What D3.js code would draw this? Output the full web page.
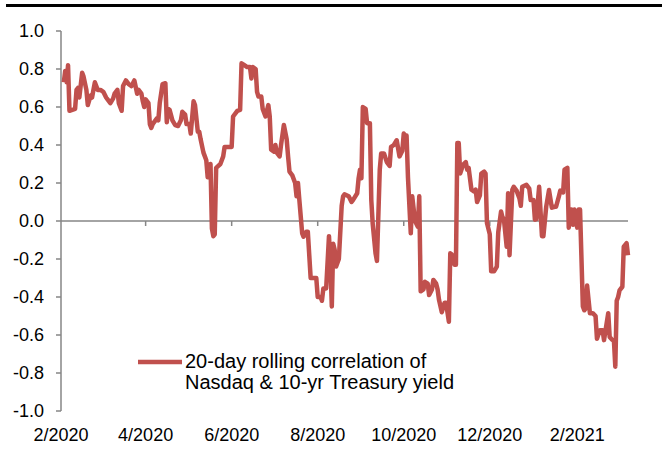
<!DOCTYPE html>
<html lang="en">
<head>
  <meta charset="UTF-8">
  <title>Nasdaq vs 10-yr Treasury yield correlation</title>
  <script src="https://cdn.jsdelivr.net/npm/d3@7"></script>
  <style type="text/css">
    body { margin: 0; background: #fff; }
    svg { display: block; font-family: "Liberation Sans", Arial, sans-serif; }
  </style>
</head>
<body>
<div id="chart"></div>
<script type="text/javascript">
  // 20-day rolling correlation
  var dates = [
    "2020-02-03","2020-02-04","2020-02-05","2020-02-06","2020-02-07","2020-02-11","2020-02-12","2020-02-13","2020-02-14","2020-02-16",
    "2020-02-17","2020-02-19","2020-02-20","2020-02-22","2020-02-23","2020-02-25","2020-02-27","2020-02-29","2020-03-02","2020-03-04",
    "2020-03-05","2020-03-07","2020-03-09","2020-03-10","2020-03-12","2020-03-13","2020-03-15","2020-03-16","2020-03-18","2020-03-20",
    "2020-03-22","2020-03-23","2020-03-24","2020-03-26","2020-03-27","2020-03-29","2020-03-30","2020-03-31","2020-04-01","2020-04-03",
    "2020-04-04","2020-04-05","2020-04-06","2020-04-09","2020-04-10","2020-04-11","2020-04-13","2020-04-15","2020-04-16","2020-04-17",
    "2020-04-18","2020-04-20","2020-04-22","2020-04-24","2020-04-26","2020-04-27","2020-04-29","2020-04-30","2020-05-02","2020-05-03",
    "2020-05-05","2020-05-06","2020-05-08","2020-05-09","2020-05-10","2020-05-12","2020-05-13","2020-05-14","2020-05-15","2020-05-17",
    "2020-05-18","2020-05-19","2020-05-20","2020-05-21","2020-05-24","2020-05-26","2020-05-27","2020-06-01","2020-06-02","2020-06-05",
    "2020-06-07","2020-06-08","2020-06-10","2020-06-12","2020-06-14","2020-06-15","2020-06-16","2020-06-18","2020-06-19","2020-06-20",
    "2020-06-22","2020-06-23","2020-06-25","2020-06-27","2020-06-28","2020-06-29","2020-07-01","2020-07-02","2020-07-03","2020-07-05",
    "2020-07-06","2020-07-08","2020-07-10","2020-07-11","2020-07-12","2020-07-14","2020-07-16","2020-07-17","2020-07-18","2020-07-19",
    "2020-07-21","2020-07-22","2020-07-24","2020-07-25","2020-07-27","2020-07-29","2020-07-31","2020-08-01","2020-08-03","2020-08-04",
    "2020-08-05","2020-08-07","2020-08-09","2020-08-10","2020-08-11","2020-08-12","2020-08-13","2020-08-14","2020-08-16","2020-08-18",
    "2020-08-19","2020-08-20","2020-08-23","2020-08-25","2020-08-26","2020-08-29","2020-08-30","2020-08-31","2020-09-01","2020-09-02",
    "2020-09-04","2020-09-05","2020-09-07","2020-09-08","2020-09-09","2020-09-11","2020-09-12","2020-09-14","2020-09-15","2020-09-17",
    "2020-09-19","2020-09-21","2020-09-22","2020-09-24","2020-09-26","2020-09-28","2020-09-30","2020-10-01","2020-10-02","2020-10-03",
    "2020-10-04","2020-10-06","2020-10-07","2020-10-09","2020-10-11","2020-10-12","2020-10-13","2020-10-15","2020-10-16","2020-10-18",
    "2020-10-19","2020-10-21","2020-10-22","2020-10-24","2020-10-25","2020-10-26","2020-10-28","2020-10-30","2020-10-31","2020-11-02",
    "2020-11-03","2020-11-04","2020-11-06","2020-11-07","2020-11-08","2020-11-09","2020-11-10","2020-11-12","2020-11-14","2020-11-15",
    "2020-11-16","2020-11-18","2020-11-20","2020-11-21","2020-11-22","2020-11-24","2020-11-25","2020-11-27","2020-11-28","2020-11-29",
    "2020-12-01","2020-12-02","2020-12-04","2020-12-06","2020-12-07","2020-12-09","2020-12-10","2020-12-11","2020-12-13","2020-12-14",
    "2020-12-15","2020-12-17","2020-12-18","2020-12-20","2020-12-22","2020-12-23","2020-12-24","2020-12-27","2020-12-29","2020-12-30",
    "2021-01-01","2021-01-02","2021-01-03","2021-01-05","2021-01-07","2021-01-08","2021-01-10","2021-01-12","2021-01-14","2021-01-16",
    "2021-01-17","2021-01-19","2021-01-20","2021-01-22","2021-01-23","2021-01-25","2021-01-26","2021-01-27","2021-01-28","2021-01-29",
    "2021-01-30","2021-02-01","2021-02-02","2021-02-03","2021-02-05","2021-02-06","2021-02-07","2021-02-08","2021-02-10","2021-02-12",
    "2021-02-14","2021-02-15","2021-02-17","2021-02-19","2021-02-20","2021-02-21","2021-02-23","2021-02-24","2021-02-26","2021-02-27",
    "2021-02-28","2021-03-01","2021-03-02","2021-03-03","2021-03-05","2021-03-06","2021-03-08","2021-03-09"
  ];
  var corr = [
    0.73,0.79,0.73,0.82,0.58,0.59,0.69,0.70,0.65,0.78,
    0.76,0.69,0.61,0.66,0.65,0.73,0.69,0.69,0.68,0.65,
    0.64,0.62,0.645,0.67,0.69,0.62,0.58,0.71,0.74,0.72,
    0.71,0.725,0.74,0.67,0.69,0.67,0.63,0.60,0.64,0.62,
    0.51,0.49,0.51,0.54,0.53,0.62,0.72,0.725,0.52,0.59,
    0.585,0.53,0.505,0.50,0.53,0.575,0.56,0.51,0.51,0.46,
    0.63,0.61,0.47,0.47,0.43,0.36,0.34,0.32,0.23,0.30,
    -0.04,-0.08,-0.07,0.28,0.30,0.34,0.39,0.39,0.55,0.58,
    0.585,0.83,0.82,0.81,0.81,0.75,0.81,0.80,0.68,0.655,
    0.655,0.59,0.55,0.61,0.55,0.375,0.365,0.40,0.36,0.34,
    0.40,0.505,0.43,0.34,0.26,0.24,0.20,0.13,0.20,0.11,
    -0.065,-0.083,-0.056,-0.056,-0.30,-0.30,-0.30,-0.40,-0.40,-0.42,
    -0.355,-0.355,-0.08,-0.22,-0.45,-0.12,-0.15,-0.24,-0.20,0.08,
    0.13,0.14,0.13,0.10,0.11,0.146,0.225,0.27,0.225,0.60,
    0.59,0.515,0.515,0.11,-0.015,-0.17,-0.21,0.27,0.355,0.355,
    0.31,0.29,0.39,0.40,0.425,0.34,0.37,0.46,0.45,0.45,
    0.23,-0.065,0.13,0.0,-0.03,0.13,-0.37,-0.36,-0.32,-0.33,
    -0.39,-0.36,-0.31,-0.33,-0.36,-0.415,-0.48,-0.43,-0.43,-0.53,
    -0.17,-0.175,-0.23,-0.23,0.41,0.41,0.25,0.295,0.31,0.27,
    0.28,0.165,0.155,0.165,0.10,0.135,0.25,0.26,0.25,-0.01,
    -0.07,-0.265,-0.265,-0.24,-0.06,0.05,0.02,0.01,-0.135,0.146,
    -0.18,0.165,0.18,0.16,0.12,0.08,0.18,0.19,0.17,0.11,
    0.11,0.007,0.01,0.18,-0.08,-0.08,0.075,0.163,0.07,0.075,
    0.075,0.13,0.16,0.15,0.27,0.28,-0.035,0.06,0.06,-0.02,
    0.06,-0.035,0.06,0.06,-0.45,-0.47,-0.46,-0.34,-0.485,-0.485,
    -0.50,-0.62,-0.575,-0.575,-0.627,-0.58,-0.485,-0.61,-0.627,-0.627,
    -0.767,-0.42,-0.40,-0.365,-0.346,-0.135,-0.117,-0.18
  ];
  var yTicks = [1.0, 0.8, 0.6, 0.4, 0.2, 0.0, -0.2, -0.4, -0.6, -0.8, -1.0];
  var legendLines = ["20-day rolling correlation of", "Nasdaq & 10-yr Treasury yield"];

  var width = 665, height = 459;
  var parse = d3.timeParse("%Y-%m-%d");
  var data = dates.map(function(d, i) { return { date: parse(d), value: corr[i] }; });

  var x = d3.scaleTime()
    .domain([new Date(2020, 1, 1), new Date(2021, 2, 9)])
    .range([61, 628]);
  var y = d3.scaleLinear().domain([-1, 1]).range([411, 31]);

  var svg = d3.select("#chart").append("svg")
    .attr("width", width)
    .attr("height", height);

  // thick rule across the top
  svg.append("rect")
    .attr("x", 6).attr("y", 4)
    .attr("width", 656).attr("height", 3)
    .attr("fill", "#000");

  var axisColor = "#868686";
  var fmt = d3.format(".1f");

  // y axis
  svg.append("line")
    .attr("x1", x.range()[0]).attr("x2", x.range()[0])
    .attr("y1", y(1)).attr("y2", y(-1))
    .attr("stroke", axisColor).attr("stroke-width", 1.5);

  var yt = svg.append("g").selectAll("g").data(yTicks).join("g")
    .attr("transform", function(d) { return "translate(0," + y(d) + ")"; });
  yt.append("line")
    .attr("x1", x.range()[0] - 5).attr("x2", x.range()[0])
    .attr("stroke", axisColor).attr("stroke-width", 1.5);
  yt.append("text")
    .attr("x", 44)
    .attr("dy", "0.36em")
    .attr("text-anchor", "end")
    .attr("font-size", 18)
    .attr("fill", "#000")
    .text(function(d) { return fmt(d).replace("\u2212", "-"); });

  // zero line acts as the x axis
  svg.append("line")
    .attr("x1", x.range()[0]).attr("x2", x.range()[1])
    .attr("y1", y(0)).attr("y2", y(0))
    .attr("stroke", axisColor).attr("stroke-width", 1.5);

  // every second month, starting with February
  var evenMonths = d3.timeMonth.filter(function(d) { return d.getMonth() % 2 === 1; });
  var xTicks = x.ticks(evenMonths);
  svg.append("g").selectAll("line").data(xTicks.slice(1)).join("line")
    .attr("x1", function(d) { return x(d); })
    .attr("x2", function(d) { return x(d); })
    .attr("y1", y(0)).attr("y2", y(0) + 5)
    .attr("stroke", axisColor).attr("stroke-width", 1.5);

  svg.append("g").selectAll("text").data(xTicks).join("text")
    .attr("x", function(d) { return x(d); })
    .attr("y", 441)
    .attr("text-anchor", "middle")
    .attr("font-size", 18)
    .attr("fill", "#000")
    .text(d3.timeFormat("%-m/%Y"));

  // the series
  var line = d3.line()
    .x(function(d) { return x(d.date); })
    .y(function(d) { return y(d.value); });

  svg.append("path")
    .datum(data)
    .attr("d", line)
    .attr("fill", "none")
    .attr("stroke", "#C0504D")
    .attr("stroke-width", 4.5)
    .attr("stroke-linejoin", "round");

  // legend
  var legend = svg.append("g");
  legend.append("line")
    .attr("x1", 138).attr("x2", 182)
    .attr("y1", 362).attr("y2", 362)
    .attr("stroke", "#C0504D").attr("stroke-width", 4.5);
  legend.selectAll("text").data(legendLines).join("text")
    .attr("x", 185)
    .attr("y", function(d, i) { return 368 + i * 20.5; })
    .attr("font-size", 20)
    .attr("fill", "#000")
    .text(function(d) { return d; });
</script>
</body>
</html>
